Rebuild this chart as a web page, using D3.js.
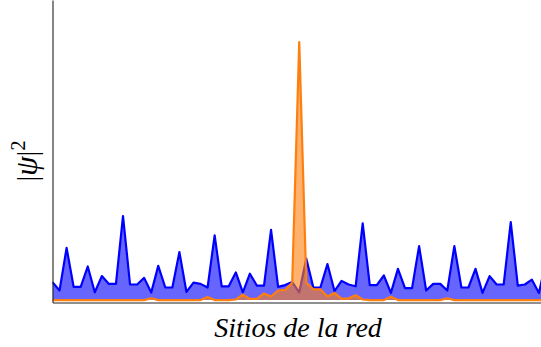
<!DOCTYPE html>
<html>
<head>
<meta charset="utf-8">
<script src="https://cdn.jsdelivr.net/npm/d3@7"></script>
<style>
  html, body { margin: 0; padding: 0; background: #fff; }
  svg { display: block; }
</style>
</head>
<body>
<svg id="chart" width="541" height="347"></svg>
<script>
// Lattice site indices
const sites = d3.range(0, 71);

// |psi|^2 of the extended (quasiperiodic) state
const extendedState = [
  0.030, 0.016, 0.087, 0.022, 0.022, 0.056, 0.013, 0.040, 0.027, 0.027,
  0.140, 0.026, 0.026, 0.037, 0.0125, 0.057, 0.021, 0.021, 0.080, 0.0136,
  0.029, 0.027, 0.021, 0.108, 0.023, 0.023, 0.046, 0.013, 0.044, 0.024,
  0.024, 0.117, 0.022, 0.025, 0.030, 0.013, 0.069, 0.021, 0.021, 0.060,
  0.015, 0.032, 0.026, 0.023, 0.128, 0.025, 0.025, 0.041, 0.012, 0.052,
  0.020, 0.020, 0.090, 0.016, 0.027, 0.027, 0.016, 0.090, 0.021, 0.021,
  0.052, 0.012, 0.040, 0.026, 0.026, 0.130, 0.024, 0.026, 0.034, 0.012,
  0.065
];

// |psi|^2 of the localized state
const localizedState = [
  0, 0, 0, 0, 0, 0, 0, 0, 0, 0,
  0, 0, 0, 0, 0.003, 0, 0, 0, 0, 0,
  0, 0, 0.005, 0, 0, 0, 0.001, 0.009, 0.002, 0.002,
  0.011, 0.006, 0.016, 0.017, 0.029, 0.430, 0.029, 0.018, 0.018, 0.006,
  0.012, 0.002, 0.003, 0.008, 0.001, 0, 0, 0, 0.0055, 0,
  0, 0, 0, 0, 0, 0, 0.003, 0, 0, 0,
  0, 0, 0, 0, 0, 0, 0, 0, 0, 0,
  0
];

const xLabel = "Sitios de la red";

const svg = d3.select("#chart");

const x = d3.scaleLinear().domain([0, 70]).range([52.5, 546]);
const y = d3.scaleLinear().domain([-0.004, 0.5]).range([302.5, 0]);

svg.append("defs").append("clipPath").attr("id", "plot-clip")
  .append("rect").attr("x", 52.5).attr("y", 0).attr("width", 541 - 52.5).attr("height", 302.5);

const plot = svg.append("g").attr("clip-path", "url(#plot-clip)");

function drawState(values, lineColor, fillColor) {
  const pts = sites.map((s, i) => [s, values[i]]);
  const area = d3.area()
    .x(d => x(d[0]))
    .y0(y(0))
    .y1(d => y(d[1]));
  const line = d3.line()
    .x(d => x(d[0]))
    .y(d => y(d[1]));
  plot.append("path")
    .attr("d", area(pts))
    .attr("fill", fillColor)
    .attr("fill-opacity", 0.6);
  plot.append("path")
    .attr("d", line(pts))
    .attr("fill", "none")
    .attr("stroke", lineColor)
    .attr("stroke-width", 2.2)
    .attr("stroke-linejoin", "round");
}

drawState(extendedState, "#0000ff", "#0000ff");
drawState(localizedState, "#ff7f0e", "#ff7f0e");

// Axes: spines only, no ticks
svg.append("g")
  .attr("transform", "translate(52.5,0)")
  .call(d3.axisLeft(y).ticks(0).tickSizeOuter(0));
svg.append("g")
  .attr("transform", "translate(0,302.5)")
  .call(d3.axisBottom(x).ticks(0).tickSizeOuter(0));
svg.selectAll(".domain").attr("stroke", "#222").attr("stroke-width", 1.1);

// Axis titles
svg.append("text")
  .attr("x", 298)
  .attr("y", 336.5)
  .attr("text-anchor", "middle")
  .attr("font-family", "'Liberation Serif', 'DejaVu Serif', serif")
  .attr("font-style", "italic")
  .attr("font-size", 28)
  .attr("fill", "#000")
  .text(xLabel);

const yl = svg.append("text")
  .attr("transform", "translate(37,161) rotate(-90)")
  .attr("text-anchor", "middle")
  .attr("font-family", "'Liberation Serif', 'DejaVu Serif', serif")
  .attr("font-size", 29)
  .attr("fill", "#000");
yl.append("tspan").text("|");
yl.append("tspan").attr("font-style", "italic").attr("font-size", 31).text("ψ");
yl.append("tspan").text("|");
yl.append("tspan").attr("font-size", 20).attr("dy", -12).text("2");
</script>
</body>
</html>
